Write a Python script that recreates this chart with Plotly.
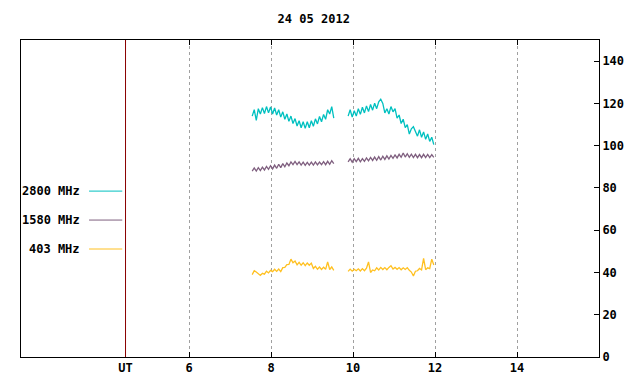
import numpy as np
import plotly.graph_objects as go

# time grids (hours UT) for the two observing segments
seg1_start, seg1_end, seg1_n = 7.54, 9.53, 41
seg2_start, seg2_end, seg2_n = 9.88, 11.97, 43

# 2800 MHz flux
f2800_seg1 = [114, 117, 112, 117.5, 115, 118, 115.2, 118.5, 115.5, 118.3,
              115, 117.8, 114.5, 117, 113.5, 116, 112.5, 115, 111.5, 114,
              110.5, 112.8, 109.3, 111.8, 108.5, 111.3, 108.2, 111.3, 108.5, 111.8,
              109.2, 112.7, 110.3, 113.8, 111.3, 114.8, 112.5, 117, 115, 118.5, 113]
f2800_seg2 = [114, 117, 113.5, 116.5, 114, 117.5, 114.8, 118.2, 115.5, 118.8,
              116.1, 119.5, 116.8, 120.1, 117.5, 120.7, 122, 120, 115.5, 117.5,
              115, 118.5, 116, 117.5, 113, 114.5, 110.5, 112.5, 108.5, 110,
              105.5, 108, 109, 107, 104.5, 107.5, 104, 106.5, 103, 105.5,
              102, 104, 100.5]

# 1580 MHz flux
f1580_seg1 = [88, 89.5, 88, 89.6, 88.2, 89.8, 88.5, 90.2, 88.8, 90.5,
              89, 90.8, 89.3, 91.2, 89.6, 91.5, 90, 91.8, 90.5, 92.3,
              91, 92.5, 91, 92.3, 90.8, 92.2, 90.7, 92.1, 90.8, 92.2,
              90.8, 92.3, 90.9, 92.2, 91, 92.4, 91, 92.6, 91.2, 92.9, 91.5]
f1580_seg2 = [92.3, 93.8, 92.2, 93.8, 92.5, 94, 92.4, 93.9, 92.6, 94.2,
              92.8, 94.4, 93, 94.6, 93.1, 94.8, 93.2, 95, 93.5, 95.2,
              93.7, 95.4, 94, 95.6, 94.2, 95.9, 94.5, 96.5, 94.6, 96.2,
              94.5, 96, 94.4, 95.9, 94.3, 95.8, 94.3, 95.9, 94.4, 95.9,
              94.4, 95.8, 94.5]

# 403 MHz flux
f403_seg1 = [39, 40.8, 40.2, 39.2, 38.6, 39.6, 39.2, 40.6, 39.8, 41,
             40.4, 41.5, 40.5, 41.6, 40.4, 42.3, 42.4, 43.7, 43.8, 46.3,
             44.6, 45.4, 43.6, 44.8, 43.4, 44.6, 43.2, 44.5, 43.4, 44.4,
             41.9, 42.9, 41.5, 42.6, 41.4, 42.5, 41.5, 45, 41.4, 42.6, 41]
f403_seg2 = [40.5, 41.6, 40.6, 41.5, 40.8, 41.7, 40.7, 41.8, 40.8, 42,
             45, 40, 41.2, 40.8, 42.2, 41.2, 42.4, 41.4, 42.3, 41.3,
             42.4, 43.2, 41.6, 42.4, 41.5, 42.3, 41.3, 42.2, 41.4, 42.3,
             41, 40.2, 38.3, 40.6, 40.8, 41.9, 41.2, 46.7, 41.3, 42.2,
             41.8, 46.3, 43.5]

series_names = ["2800 MHz", "1580 MHz", "403 MHz"]
series_colors = ["#00c0c0", "#7f5f7f", "#ffc020"]
series_data = [(f2800_seg1, f2800_seg2), (f1580_seg1, f1580_seg2), (f403_seg1, f403_seg2)]

x_tickvals = [4.45, 6, 8, 10, 12, 14]
x_ticktext = ["UT", "6", "8", "10", "12", "14"]
y_tickvals = [0, 20, 40, 60, 80, 100, 120, 140]

title_text = "24 05 2012"

t1 = np.linspace(seg1_start, seg1_end, seg1_n)
t2 = np.linspace(seg2_start, seg2_end, seg2_n)

FONT = "DejaVu Sans Mono"
FSIZE = 12
fig = go.Figure()
for name, color, (s1, s2) in zip(series_names, series_colors, series_data):
    xs = list(t1) + [None] + list(t2)
    ys = list(s1) + [None] + list(s2)
    fig.add_trace(go.Scatter(x=xs, y=ys, mode="lines", name=name,
                             line=dict(color=color, width=1.3),
                             connectgaps=False, showlegend=False))

# legend (gnuplot style, inside the left part of the plot)
legend_y = [78.5, 64.8, 51.1]
for name, color, ly in zip(series_names, series_colors, legend_y):
    fig.add_annotation(x=3.4, y=ly, text=name, showarrow=False, xanchor="right",
                       yanchor="middle", font=dict(family=FONT, size=FSIZE, color="black", weight="bold"))
    fig.add_shape(type="line", x0=3.56, x1=4.37, y0=ly, y1=ly,
                  line=dict(color=color, width=1), layer="above")

# UT separator line
fig.add_shape(type="line", x0=4.45, x1=4.45, y0=0, y1=150, xref="x", yref="y",
              line=dict(color="#8b0000", width=1), layer="above")

# the page body adds a small offset, so the figure is sized/offset to compensate
fig.update_layout(
    width=633, height=377,
    margin=dict(l=13, r=42, t=32, b=28),
    paper_bgcolor="white", plot_bgcolor="white",
    title=dict(text=title_text, x=0.483, xanchor="center", y=0.972, yanchor="middle",
               font=dict(family=FONT, size=FSIZE, color="black", weight="bold")),
    showlegend=False,
)
fig.update_xaxes(range=[1.9, 16], tickvals=x_tickvals, ticktext=x_ticktext,
                 showline=True, linecolor="black", linewidth=1, mirror="ticks",
                 ticks="inside", ticklen=5, tickcolor="black",
                 showgrid=True, gridcolor="#a0a0a0", griddash="3px,3px", gridwidth=1,
                 zeroline=False, automargin=False,
                 tickfont=dict(family=FONT, size=FSIZE, color="black", weight="bold"))
fig.update_yaxes(range=[0, 150], tickvals=y_tickvals, side="right",
                 showline=True, linecolor="black", linewidth=1, mirror=True,
                 ticks="inside", ticklen=5, tickcolor="black",
                 showgrid=False, zeroline=False, automargin=False,
                 tickfont=dict(family=FONT, size=FSIZE, color="black", weight="bold"))

fig.write_html("out.html")
